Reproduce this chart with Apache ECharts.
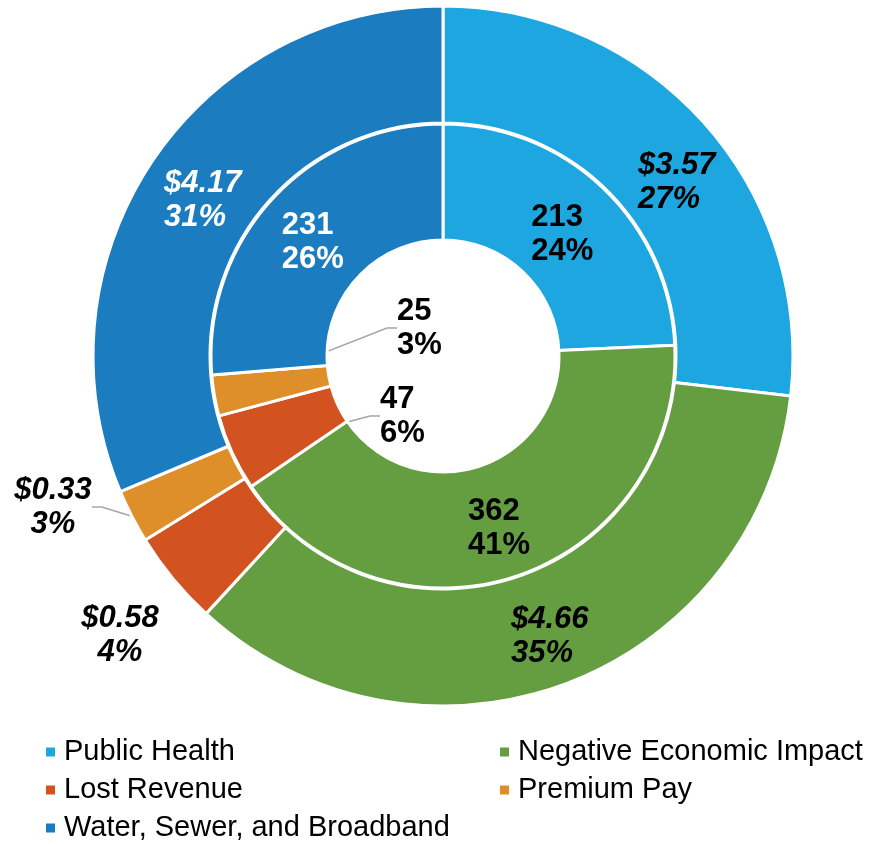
<!DOCTYPE html>
<html>
<head>
<meta charset="utf-8">
<title>Funding by category</title>
<script src="https://cdn.jsdelivr.net/npm/echarts/dist/echarts.min.js"></script>
</head>
<body style="margin:0;background:#fff;">
<div id="chart" style="width:872px;height:845px;"></div>
<script>
var categories = ['Public Health', 'Negative Economic Impact', 'Lost Revenue', 'Premium Pay', 'Water, Sewer, and Broadband'];
var colors = ['#1DA6DF', '#659D41', '#D25220', '#DE8F2A', '#1B7CC0'];
// outer ring: dollars (billions) and shown share
var outerValues = [3.57, 4.66, 0.58, 0.33, 4.17];
var outerPct = [27, 35, 4, 3, 31];
// inner ring: number of projects and shown share
var innerValues = [213, 362, 47, 25, 231];
var innerPct = [24, 41, 6, 3, 26];

// where the small slices put their labels
var innerSpots = {2: {x: 380, y: 416, align: 'left'}, 3: {x: 397, y: 328, align: 'left'}};
var outerSpots = {2: {x: 120, y: 635, align: 'center'}, 3: {x: 53, y: 507, align: 'center'}};
// small shifts for the inside labels
var innerNudge = {0: [-3, 6], 1: [0, 5], 4: [0, 6]};
var outerNudge = {0: [14, 22], 1: [4, 4], 4: [5, 7]};

var font = "'Liberation Sans', Arial, sans-serif";
var rich = {
    lb: {align: 'left', color: '#000'},
    lw: {align: 'left', color: '#fff'},
    cb: {align: 'center', color: '#000'}
};

function tag(i, spots) {
    if (spots[i]) return spots[i].align === 'center' ? 'cb' : 'lb';
    return i === 4 ? 'lw' : 'lb';
}

function buildData(values, spots, hideLine) {
    return values.map(function (v, i) {
        var item = {name: categories[i], value: v, itemStyle: {color: colors[i]}};
        if (spots[i]) {
            item.label = {position: 'outside'};
            item.labelLine = {show: hideLine.indexOf(i) < 0, length: 10, length2: 10};
        }
        return item;
    });
}

function layoutFrom(spots, nudge) {
    return function (p) {
        var o = spots[p.dataIndex];
        if (!o) {
            var n = nudge[p.dataIndex];
            return n ? {dx: n[0], dy: n[1]} : {};
        }
        return {x: o.x, y: o.y, align: o.align, verticalAlign: 'middle'};
    };
}

var labelBase = {
    show: true,
    position: 'inside',
    fontFamily: font,
    fontSize: 31,
    fontWeight: 'bold',
    lineHeight: 34
};

var legendBase = {
    orient: 'vertical',
    top: 737,
    height: 108,
    padding: 0,
    icon: 'rect',
    itemWidth: 11,
    itemHeight: 11,
    itemGap: 8,
    selectedMode: false,
    textStyle: {fontFamily: font, fontSize: 29, lineHeight: 30, color: '#000', padding: [0, 0, 0, 3]}
};

var chart = echarts.init(document.getElementById('chart'));
chart.setOption({
    animation: false,
    legend: [
        Object.assign({}, legendBase, {left: 44, data: [categories[0], categories[2], categories[4]]}),
        Object.assign({}, legendBase, {left: 498, data: [categories[1], categories[3]]})
    ],
    series: [{
        name: 'Projects',
        type: 'pie',
        center: [443, 356],
        radius: [116, 232],
        startAngle: 90,
        avoidLabelOverlap: false,
        itemStyle: {borderColor: '#fff', borderWidth: 3},
        label: Object.assign({}, labelBase, {
            rich: rich,
            formatter: function (p) {
                var t = tag(p.dataIndex, innerSpots);
                return '{' + t + '|' + p.value + '}\n{' + t + '|' + innerPct[p.dataIndex] + '%}';
            }
        }),
        labelLine: {lineStyle: {color: '#A6A6A6', width: 1.5}},
        labelLayout: layoutFrom(innerSpots, innerNudge),
        emphasis: {disabled: true},
        data: buildData(innerValues, innerSpots, [])
    }, {
        name: 'Dollars',
        type: 'pie',
        center: [443, 356],
        radius: [233, 350],
        startAngle: 90,
        avoidLabelOverlap: false,
        itemStyle: {borderColor: '#fff', borderWidth: 3},
        label: Object.assign({}, labelBase, {
            fontStyle: 'italic',
            rich: rich,
            formatter: function (p) {
                var t = tag(p.dataIndex, outerSpots);
                return '{' + t + '|$' + p.value.toFixed(2) + '}\n{' + t + '|' + outerPct[p.dataIndex] + '%}';
            }
        }),
        labelLine: {lineStyle: {color: '#A6A6A6', width: 1.5}},
        labelLayout: layoutFrom(outerSpots, outerNudge),
        emphasis: {disabled: true},
        data: buildData(outerValues, outerSpots, [2])
    }]
});
</script>
</body>
</html>
